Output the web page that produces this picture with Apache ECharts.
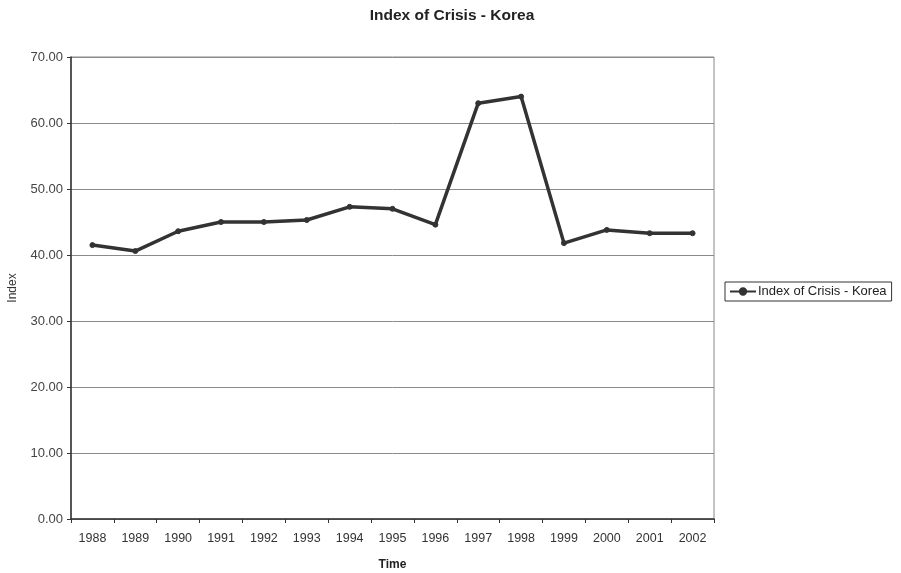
<!DOCTYPE html>
<html>
<head>
<meta charset="utf-8">
<title>Index of Crisis - Korea</title>
<script src="https://cdn.jsdelivr.net/npm/echarts@6/dist/echarts.min.js"></script>
<style>
  html, body { margin: 0; padding: 0; background: #fff; }
  #chart { width: 901px; height: 573px; }
</style>
</head>
<body>
<div id="chart"></div>
<script>
// Yearly crisis index for Korea
const years = ['1988', '1989', '1990', '1991', '1992', '1993', '1994', '1995',
               '1996', '1997', '1998', '1999', '2000', '2001', '2002'];
const crisisIndex = [41.5, 40.6, 43.6, 45.0, 45.0, 45.3, 47.3, 47.0,
                     44.6, 63.0, 64.0, 41.8, 43.8, 43.3, 43.3];
const seriesName = 'Index of Crisis - Korea';
const yMin = 0, yMax = 70, yStep = 10;

const font = '"Liberation Sans", Arial, sans-serif';
const chart = echarts.init(document.getElementById('chart'), null, { renderer: 'canvas' });

chart.setOption({
  backgroundColor: '#ffffff',
  animation: false,
  textStyle: { fontFamily: font },
  title: {
    text: 'Index of Crisis - Korea',
    left: 447,
    textAlign: 'center',
    top: 3,
    textStyle: { fontFamily: font, fontSize: 15.5, fontWeight: 'bold', color: '#222' }
  },
  legend: {
    data: [seriesName],
    orient: 'vertical',
    left: 725,
    top: 282,
    borderColor: '#333',
    borderWidth: 1,
    borderRadius: 0,
    padding: [3, 5, 3, 4],
    itemWidth: 26,
    itemHeight: 8,
    itemGap: 0,
    textStyle: { fontFamily: font, fontSize: 13, color: '#222', padding: [0, 0, 0, -3] }
  },
  grid: {
    left: 71,
    right: 187,
    top: 57,
    bottom: 54,
    outerBoundsMode: 'none',
    containLabel: false,
    show: true,
    borderColor: '#888',
    borderWidth: 1,
    backgroundColor: '#ffffff'
  },
  xAxis: {
    type: 'category',
    data: years,
    boundaryGap: true,
    name: 'Time',
    nameLocation: 'middle',
    nameGap: 40,
    nameTextStyle: { fontFamily: font, fontSize: 12, fontWeight: 'bold', color: '#222' },
    axisLine: { show: true, lineStyle: { color: '#333', width: 1.5 } },
    axisTick: { show: true, alignWithLabel: false, length: 4, lineStyle: { color: '#333' } },
    axisLabel: { fontFamily: font, fontSize: 12.5, color: '#333', margin: 13, interval: 0 },
    splitLine: { show: false }
  },
  yAxis: {
    type: 'value',
    min: yMin,
    max: yMax,
    interval: yStep,
    name: 'Index',
    nameLocation: 'middle',
    nameGap: 52,
    nameRotate: 90,
    nameTextStyle: { fontFamily: font, fontSize: 12, color: '#333' },
    axisLine: { show: true, lineStyle: { color: '#333', width: 1.5 } },
    axisTick: { show: true, length: 4, lineStyle: { color: '#333' } },
    axisLabel: {
      fontFamily: font, fontSize: 13, color: '#444', margin: 8,
      formatter: v => v.toFixed(2)
    },
    splitLine: { show: true, lineStyle: { color: '#8a8a8a', width: 1 } }
  },
  series: [{
    name: seriesName,
    type: 'line',
    data: crisisIndex,
    symbol: 'circle',
    symbolSize: 5,
    showSymbol: true,
    lineStyle: { color: '#333', width: 3.5 },
    itemStyle: { color: '#333', borderColor: '#333', borderWidth: 1 }
  }]
});
</script>
</body>
</html>
